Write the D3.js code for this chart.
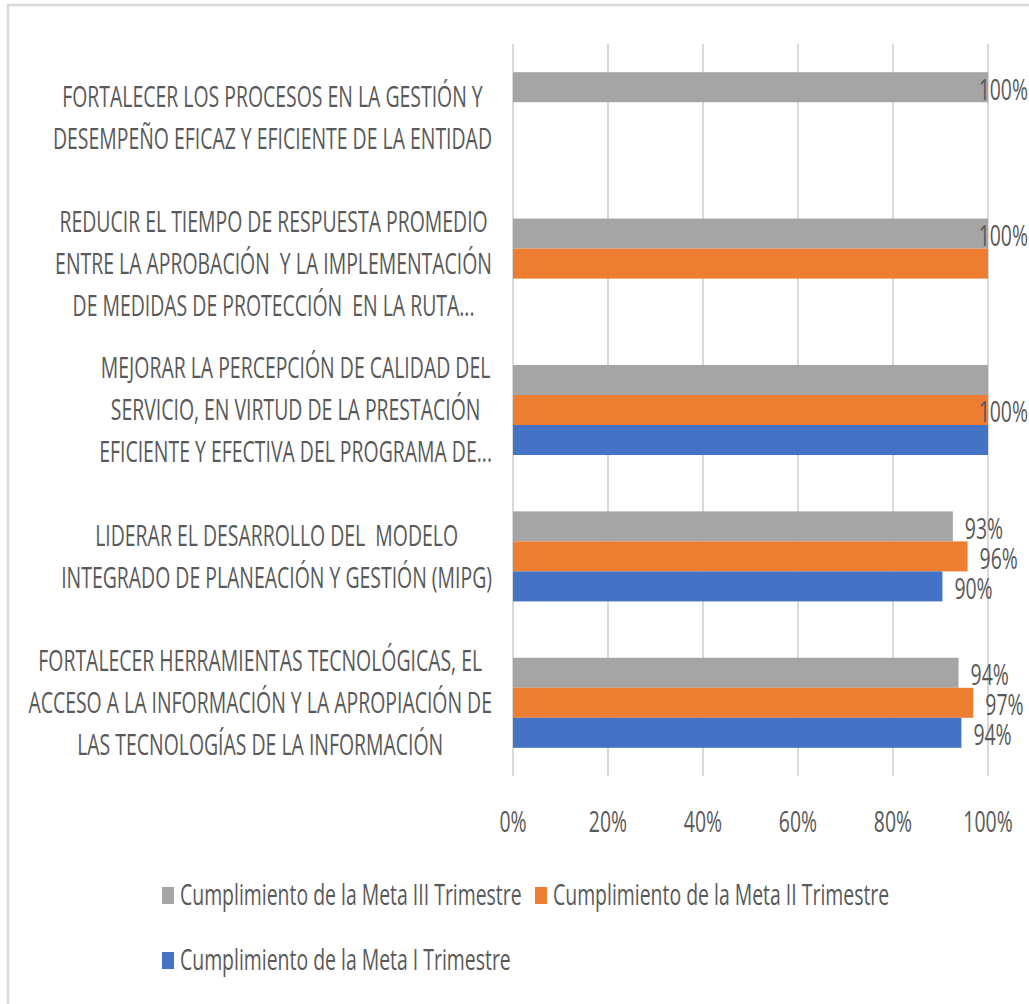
<!DOCTYPE html>
<html>
<head>
<meta charset="utf-8">
<script src="https://cdn.jsdelivr.net/npm/d3@7"></script>
<style>
body { margin: 0; background: #fff; }
text { font-family: "Open Sans", sans-serif; fill: #595959; white-space: pre; }
</style>
</head>
<body>
<div id="root"></div>
<script>
var width = 1029;
var height = 1004;

// text in the picture is squeezed horizontally
var sx = 0.67;
var fontSize = 29;

// categories, top to bottom, already broken in lines
var categories = [
	["FORTALECER LOS PROCESOS EN LA GESTIÓN Y", "DESEMPEÑO EFICAZ Y EFICIENTE DE LA ENTIDAD"],
	["REDUCIR EL TIEMPO DE RESPUESTA PROMEDIO", "ENTRE LA APROBACIÓN  Y LA IMPLEMENTACIÓN", "DE MEDIDAS DE PROTECCIÓN  EN LA RUTA..."],
	["MEJORAR LA PERCEPCIÓN DE CALIDAD DEL", "SERVICIO, EN VIRTUD DE LA PRESTACIÓN", "EFICIENTE Y EFECTIVA DEL PROGRAMA DE..."],
	["LIDERAR EL DESARROLLO DEL  MODELO", "INTEGRADO DE PLANEACIÓN Y GESTIÓN (MIPG)"],
	["FORTALECER HERRAMIENTAS TECNOLÓGICAS, EL", "ACCESO A LA INFORMACIÓN Y LA APROPIACIÓN DE", "LAS TECNOLOGÍAS DE LA INFORMACIÓN"]
];

// series values (%), null = no bar
var metaIII = [100, 100, 100, 92.6, 93.8];
var metaII = [null, 100, 100, 95.7, 96.9];
var metaI = [null, null, 100, 90.4, 94.4];

// data labels as shown (empty = not shown)
var labelsIII = ["100%", "100%", "", "93%", "94%"];
var labelsII = ["", "", "100%", "96%", "97%"];
var labelsI = ["", "", "", "90%", "94%"];

var seriesNames = [
	"Cumplimiento de la Meta III Trimestre",
	"Cumplimiento de la Meta II Trimestre",
	"Cumplimiento de la Meta I Trimestre"
];
var seriesColors = ["#a5a5a5", "#ed7d31", "#4472c4"];

var ticks = [0, 20, 40, 60, 80, 100];

var svg = d3.select("#root")
.append("svg")
.attr("width", width)
.attr("height", height);

// chart border (only top and left visible)
svg.append("line").attr("x1", 7).attr("x2", width).attr("y1", 5).attr("y2", 5)
.attr("stroke", "#d9d9d9").attr("stroke-width", 2.5);
svg.append("line").attr("x1", 8).attr("x2", 8).attr("y1", 4).attr("y2", height)
.attr("stroke", "#d9d9d9").attr("stroke-width", 2.5);

var x = d3.scaleLinear()
.domain([0, 100])
.range([513, 988]);

var y = d3.scaleBand()
.domain(d3.range(categories.length))
.range([44, 776])
.paddingInner(0.385)
.paddingOuter(0.1925);

var ySeries = d3.scaleBand()
.domain([0, 1, 2])
.range([0, y.bandwidth()]);

/* squeezed text: position with translate, then scale x */
function addText(parent, px, py, str, anchor) {
	return parent.append("text")
	.attr("transform", "translate(" + px + "," + py + ") scale(" + sx + ",1)")
	.attr("text-anchor", anchor || "start")
	.attr("dy", "0.36em")
	.style("font-size", fontSize + "px")
	.text(str);
}

// gridlines
svg.append("g")
.selectAll("line")
.data(ticks)
.enter()
.append("line")
.attr("x1", function(d) { return x(d); })
.attr("x2", function(d) { return x(d); })
.attr("y1", 44)
.attr("y2", 776)
.attr("stroke", "#d9d9d9")
.attr("stroke-width", 2);

// tick labels
var tickG = svg.append("g");
ticks.forEach(function(t) {
	addText(tickG, x(t), 822, t + "%", "middle");
});

// bars
var allSeries = [metaIII, metaII, metaI];
var allLabels = [labelsIII, labelsII, labelsI];
var barData = [];
allSeries.forEach(function(s, si) {
	s.forEach(function(v, ci) {
		if (v != null) barData.push({ s: si, c: ci, v: v, label: allLabels[si][ci] });
	});
});

svg.append("g")
.selectAll("rect")
.data(barData)
.enter()
.append("rect")
.attr("x", x(0))
.attr("y", function(d) { return y(d.c) + ySeries(d.s); })
.attr("width", function(d) { return x(d.v) - x(0); })
.attr("height", ySeries.bandwidth())
.attr("fill", function(d) { return seriesColors[d.s]; });

// data labels, kept inside the chart on the right
var labelG = svg.append("g");
barData.forEach(function(d) {
	if (!d.label) return;
	var t = addText(labelG, 0, 0, d.label, "start");
	var w = t.node().getComputedTextLength() * sx;
	var px = Math.min(x(d.v) + 12, width - 1 - w);
	var py = y(d.c) + ySeries(d.s) + ySeries.bandwidth() / 2 + 2;
	t.attr("transform", "translate(" + px + "," + py + ") scale(" + sx + ",1)");
});

// category labels: lines centered, block right aligned
var lineH = 42;
var catG = svg.append("g");
categories.forEach(function(lines, ci) {
	var cy = y(ci) + y.bandwidth() / 2;
	var texts = lines.map(function(l, li) {
		return addText(catG, 0, 0, l, "middle");
	});
	var maxW = d3.max(texts, function(t) { return t.node().getComputedTextLength() * sx; });
	var cx = 492 - maxW / 2;
	texts.forEach(function(t, li) {
		var py = cy + (li - (lines.length - 1) / 2) * lineH;
		t.attr("transform", "translate(" + cx + "," + py + ") scale(" + sx + ",1)");
	});
});

// legend
var legend = svg.append("g");
var legendPos = [[162, 895], [535, 895], [162, 960]];
seriesNames.forEach(function(name, i) {
	var p = legendPos[i];
	legend.append("rect")
	.attr("x", p[0])
	.attr("y", p[1] - 8)
	.attr("width", 12)
	.attr("height", 17)
	.attr("fill", seriesColors[i]);
	addText(legend, p[0] + 18, p[1], name, "start");
});
</script>
</body>
</html>
